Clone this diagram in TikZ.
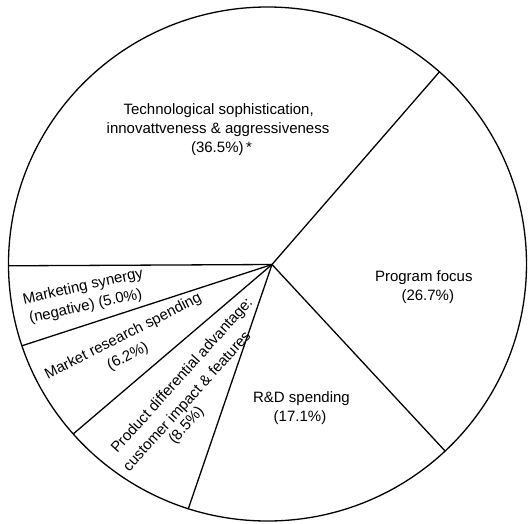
\documentclass[tikz,border=0pt]{standalone}
\usepackage{fontspec}
\setmainfont{Liberation Sans}
\begin{document}
\begin{tikzpicture}[x=1pt,y=-1pt,
  lbl/.style={inner sep=0pt, anchor=center, font=\fontsize{15}{19}\selectfont},
  rim/.style={line width=1.3pt},
  spoke/.style={line width=1.3pt}]
\useasboundingbox (0,0) rectangle (528,523);
\coordinate (C) at (267.5,264);
\coordinate (H) at (272,264.5);
\draw[rim] (C) ellipse [x radius=259pt, y radius=257pt];
\path (C) ++(48.4:259pt and 257pt) coordinate (E1);
\path (C) ++(180.4:259pt and 257pt) coordinate (E2);
\path (C) ++(198.55:259pt and 257pt) coordinate (E3);
\path (C) ++(221.4:259pt and 257pt) coordinate (E4);
\path (C) ++(252.2:259pt and 257pt) coordinate (E5);
\path (C) ++(313.3:259pt and 257pt) coordinate (E6);
\foreach \e in {E1,E2,E3,E4,E5,E6} \draw[spoke] (H) -- (\e);
% Technological
\node[lbl] (t1) at (218.7,111) {Technological sophistication,};
\node[lbl] (t2) at (218,129.5) {innovattveness \& aggressiveness};
\node[lbl] (t3) at (221.5,149) {(36.5\%)\,*};
% Program focus
\node[lbl] (pf1) at (423.8,278) {Program focus};
\node[lbl] (pf2) at (427.8,297) {(26.7\%)};
% R&D
\node[lbl] (rd1) at (301.5,398.3) {R\&D spending};
\node[lbl] (rd2) at (300,417.7) {(17.1\%)};
% Marketing synergy
\node[lbl,rotate=12.5] (ms1) at (83,287) {Marketing synergy};
\node[lbl,rotate=12.5] (ms2) at (85.7,306.7) {(negative) (5.0\%)};
% Market research
\node[lbl,rotate=27] (mr1) at (123.3,336.7) {Market research spending};
\node[lbl,rotate=27] (mr2) at (128,356.7) {(6.2\%)};
% Product
\node[lbl,rotate=48] (pd1) at (182.4,375.8) {Product differential advantage:};
\node[lbl,rotate=48] (pd2) at (187.5,401.7) {customer impact \& features};
\node[lbl,rotate=48] (pd3) at (186.7,425.7) {(8.5\%)};
\end{tikzpicture}
\end{document}
